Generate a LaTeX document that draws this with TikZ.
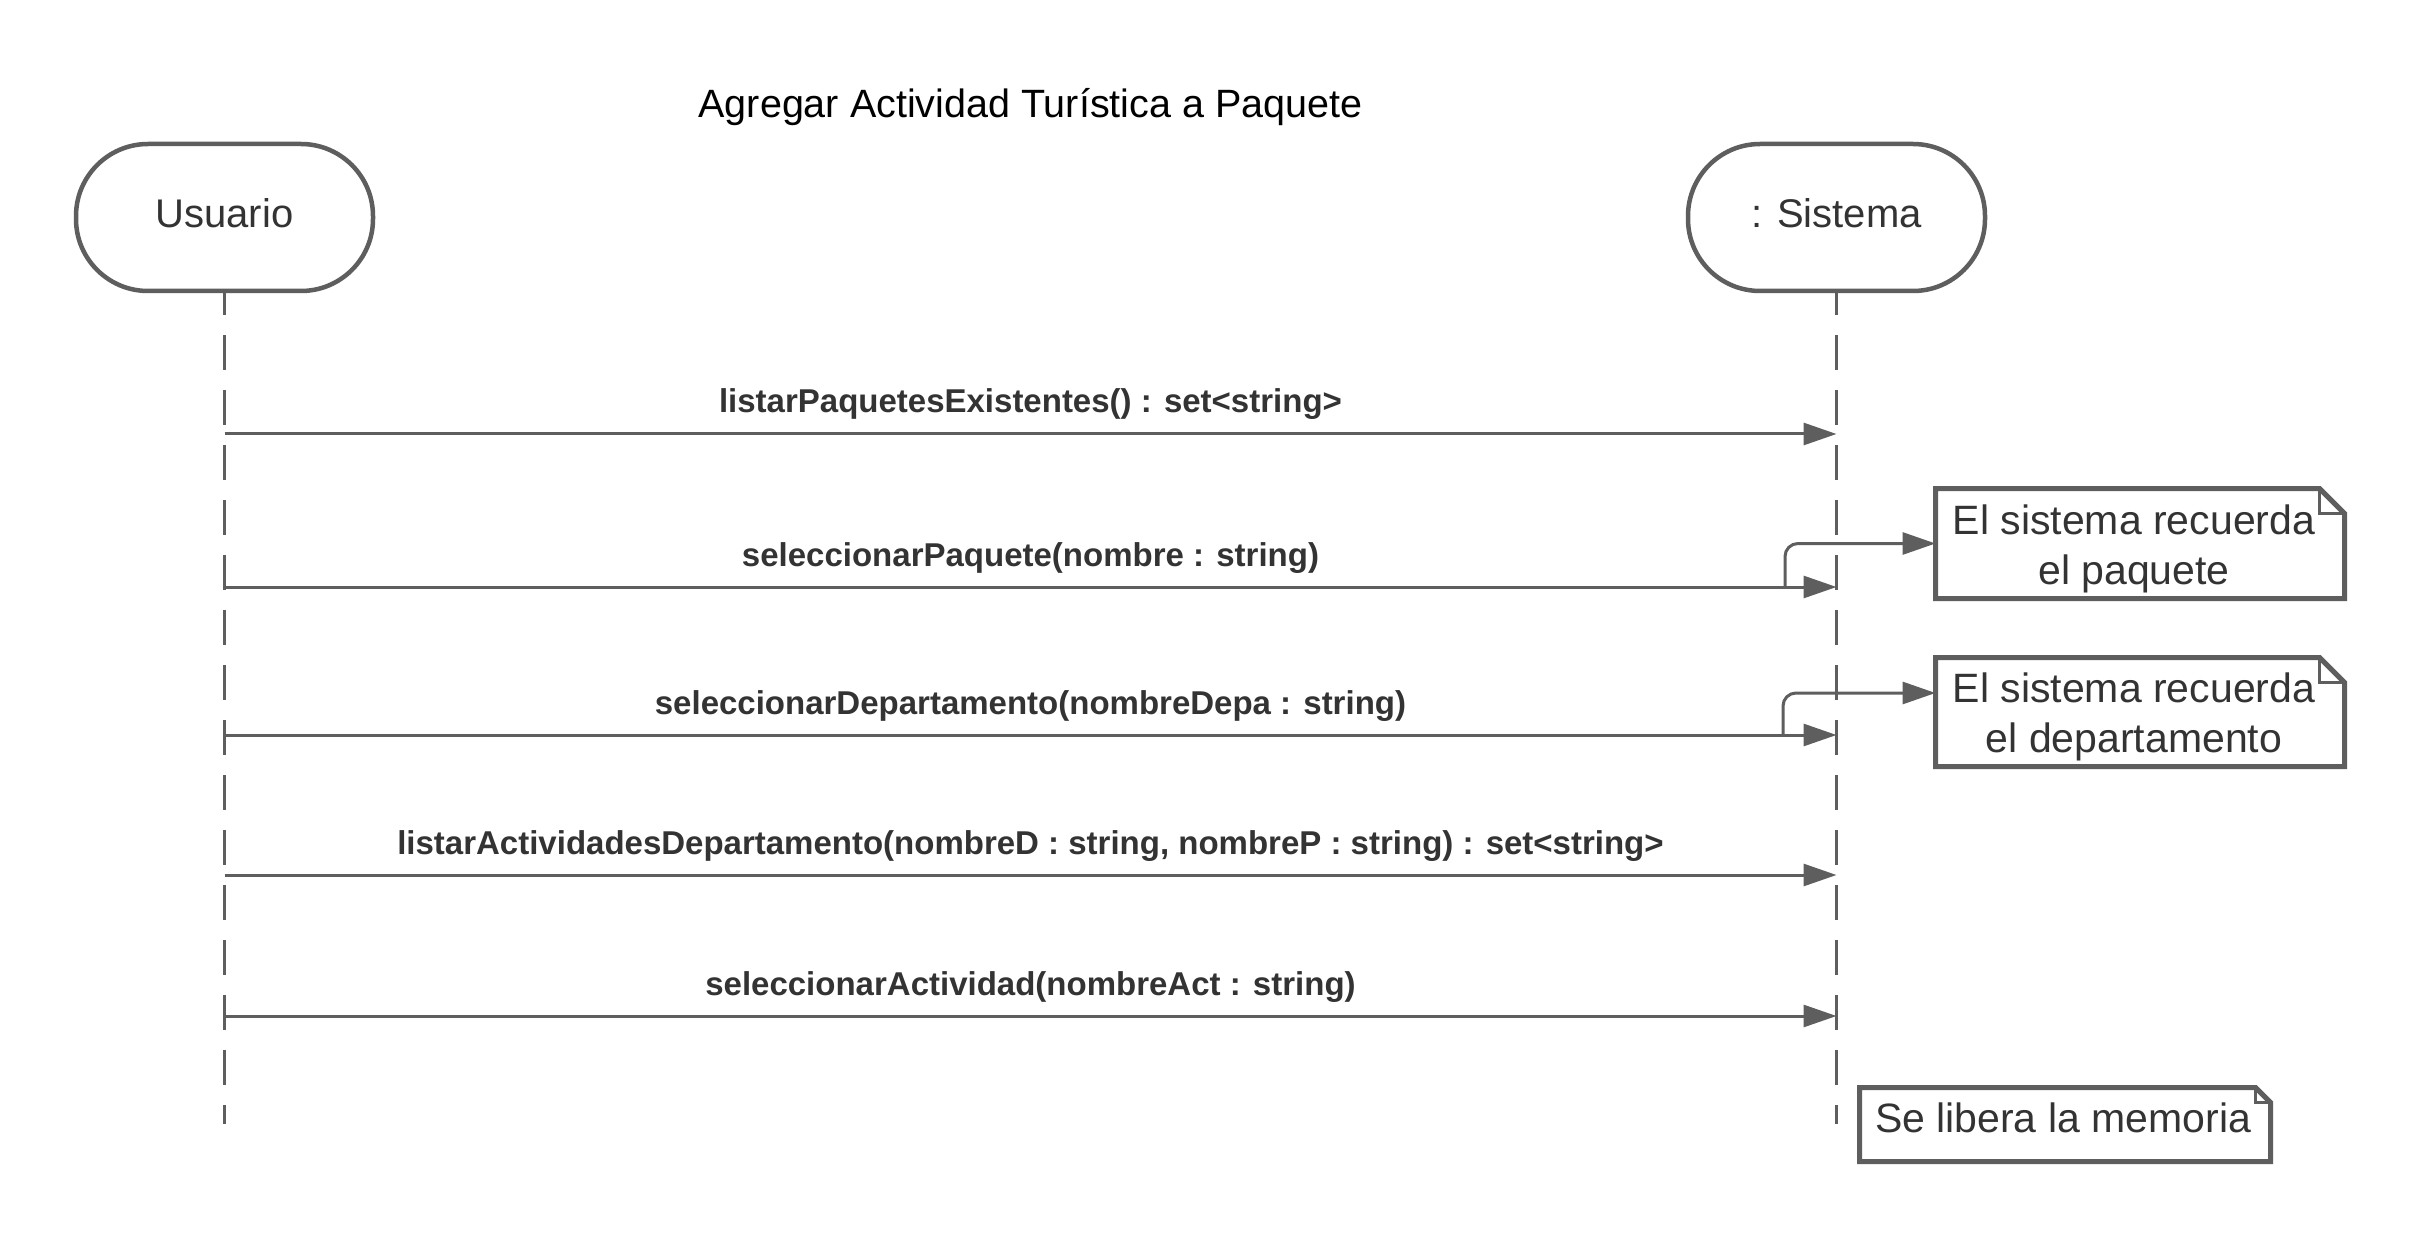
\documentclass[tikz,border=0pt]{standalone}
\usepackage{fontspec}
\setmainfont{Liberation Sans}
\usetikzlibrary{arrows.meta}
\definecolor{linegray}{HTML}{5E5E5E}
\definecolor{txtgray}{HTML}{333333}
\begin{document}
\begin{tikzpicture}[x=1pt,y=-1pt,
  actor/.style={draw=linegray, line width=4.5pt, rounded corners=72pt, minimum width=297pt, minimum height=147pt, inner sep=0pt, fill=white, text=txtgray, text depth=8pt, font=\fontsize{40}{48}\selectfont},
  lifeline/.style={draw=linegray, line width=3.8pt, dash pattern=on 35pt off 20pt, dash phase=13pt},
  msg/.style={draw=linegray, line width=3pt, -{Triangle[length=33pt,width=22pt]}},
  msglabel/.style={text=txtgray, font=\bfseries\fontsize{33}{40}\selectfont, anchor=base, inner sep=0pt},
  notebox/.style={inner sep=0pt, outer sep=0pt},
  noteline/.style={draw=linegray, line width=5pt, line join=miter},
  notetext/.style={text=txtgray, font=\fontsize{41}{50}\selectfont, align=center, inner sep=0pt},
  link/.style={draw=linegray, line width=3pt, rounded corners=13pt, -{Triangle[length=33pt,width=22pt]}},
]
\useasboundingbox[fill=white] (0,0) rectangle (2421,1238);

% title
\node[font=\fontsize{39.5}{47}\selectfont, anchor=base, inner sep=0pt] (title) at (1030.5,118) {Agregar Actividad Turística a Paquete};

% actors
\node[actor] (usr) at (224.5,217.5) {Usuario};
\node[actor] (sys) at (1836.5,217.5) {: Sistema};

% lifelines
\coordinate (uend) at (224.5,1124);
\coordinate (send) at (1836.5,1124);
\draw[lifeline] (usr) -- (uend);
\draw[lifeline] (sys) -- (send);

% messages
\coordinate (m1s) at (224.5,434);  \coordinate (m1e) at (1836.5,434);
\coordinate (m2s) at (224.5,587);  \coordinate (m2e) at (1836.5,587);
\coordinate (m3s) at (224.5,735);  \coordinate (m3e) at (1836.5,735);
\coordinate (m4s) at (224.5,875);  \coordinate (m4e) at (1836.5,875);
\coordinate (m5s) at (224.5,1016); \coordinate (m5e) at (1836.5,1016);
\draw[msg] (m1s) -- (m1e);
\draw[msg] (m2s) -- (m2e);
\draw[msg] (m3s) -- (m3e);
\draw[msg] (m4s) -- (m4e);
\draw[msg] (m5s) -- (m5e);
\node[msglabel] (l1) at (1030.5,413) {listarPaquetesExistentes() : set<string>};
\node[msglabel] (l2) at (1030.5,566) {seleccionarPaquete(nombre : string)};
\node[msglabel] (l3) at (1030.5,714) {seleccionarDepartamento(nombreDepa : string)};
\node[msglabel] (l4) at (1030.5,854) {listarActividadesDepartamento(nombreD : string, nombreP : string) : set<string>};
\node[msglabel] (l5) at (1030.5,995) {seleccionarActividad(nombreAct : string)};

% notes
\node[notebox, minimum width=409pt, minimum height=110pt] (n1) at (2140,543.5) {};
\node[notebox, minimum width=409pt, minimum height=109pt] (n2) at (2140,712) {};
\node[notebox, minimum width=411pt, minimum height=74pt] (n3) at (2065,1124.5) {};
\foreach \n/\d in {n1/25, n2/25, n3/15}{
  \draw[noteline, fill=white] (\n.north west) -- ([xshift=-\d pt]\n.north east) -- ([yshift=-\d pt]\n.north east) -- (\n.south east) -- (\n.south west) -- cycle;
  \draw[noteline, line width=3pt] ([xshift=-\d pt]\n.north east) -- ([xshift=-\d pt, yshift=-\d pt]\n.north east) -- ([yshift=-\d pt]\n.north east);
}
\node[notetext] (t1) at (2134,548.5) {El sistema recuerda\\el paquete};
\node[notetext] (t2) at (2134,716.5) {El sistema recuerda\\el departamento};
\node[notetext, anchor=base] (t3) at (2063,1132) {Se libera la memoria};

% links to notes
\coordinate (k1) at (1785,587);
\coordinate (k2) at (1783,735);
\draw[link] (k1) |- (n1.west);
\draw[link] (k2) |- ([yshift=19pt]n2.west);
\end{tikzpicture}
\end{document}
